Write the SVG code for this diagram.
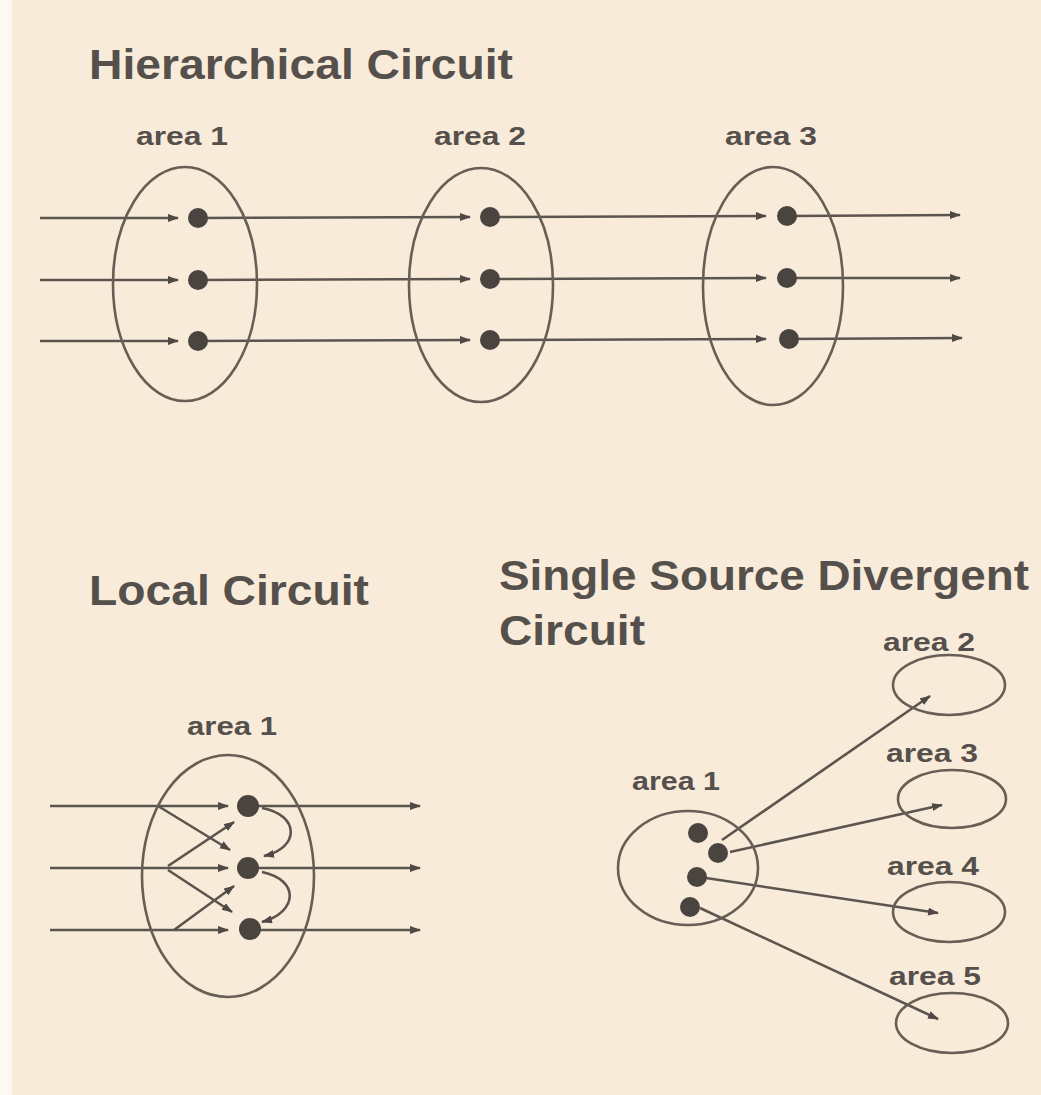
<svg xmlns="http://www.w3.org/2000/svg" width="1041" height="1095" viewBox="0 0 1041 1095">
<defs>
<marker id="ah" markerUnits="userSpaceOnUse" markerWidth="12" markerHeight="10" refX="10" refY="4" orient="auto">
<path d="M0,0 L11,4 L0,8 z" fill="#4f4844"/>
</marker>
<style>
.bg{fill:#f9ebd9}
.title{font-family:"Liberation Sans",Arial,sans-serif;font-weight:bold;font-size:43px;fill:#55504c}
.lbl{font-family:"Liberation Sans",Arial,sans-serif;font-weight:bold;font-size:26px;fill:#55504c;text-anchor:middle}
.ell{fill:none;stroke:#675e56;stroke-width:2.6}
.ln{fill:none;stroke:#5c544e;stroke-width:2.6;marker-end:url(#ah)}
.dot{fill:#4a4440}
</style>
</defs>
<rect class="bg" x="0" y="0" width="1041" height="1095"/>
<rect x="0" y="0" width="12" height="1095" fill="#fdf8f1"/>

<text class="title" x="89" y="79" textLength="424" lengthAdjust="spacingAndGlyphs">Hierarchical Circuit</text>
<text class="title" x="89" y="605" textLength="280" lengthAdjust="spacingAndGlyphs">Local Circuit</text>
<text class="title" x="499" y="590" textLength="530" lengthAdjust="spacingAndGlyphs">Single Source Divergent</text>
<text class="title" x="499" y="645" textLength="146" lengthAdjust="spacingAndGlyphs">Circuit</text>

<g id="connectors">
<!-- hierarchical rows -->
<line class="ln" x1="40" y1="218" x2="178" y2="218"/>
<line class="ln" x1="198" y1="218" x2="470" y2="217"/>
<line class="ln" x1="490" y1="217" x2="766" y2="216"/>
<line class="ln" x1="787" y1="216" x2="960" y2="215"/>
<line class="ln" x1="40" y1="280" x2="178" y2="280"/>
<line class="ln" x1="198" y1="280" x2="470" y2="279"/>
<line class="ln" x1="490" y1="279" x2="766" y2="278"/>
<line class="ln" x1="787" y1="278" x2="960" y2="278"/>
<line class="ln" x1="40" y1="341" x2="178" y2="341"/>
<line class="ln" x1="198" y1="341" x2="470" y2="340"/>
<line class="ln" x1="490" y1="340" x2="766" y2="339"/>
<line class="ln" x1="787" y1="339" x2="962" y2="338"/>
<!-- local rows -->
<line class="ln" x1="50" y1="806" x2="228" y2="806"/>
<line class="ln" x1="248" y1="806" x2="420" y2="806"/>
<line class="ln" x1="50" y1="868" x2="228" y2="868"/>
<line class="ln" x1="248" y1="868" x2="420" y2="868"/>
<line class="ln" x1="50" y1="930" x2="228" y2="930"/>
<line class="ln" x1="250" y1="930" x2="420" y2="930"/>
<!-- local cross -->
<line class="ln" x1="158" y1="806" x2="230" y2="850"/>
<line class="ln" x1="168" y1="866" x2="234" y2="822"/>
<line class="ln" x1="168" y1="870" x2="232" y2="912"/>
<line class="ln" x1="174" y1="930" x2="234" y2="886"/>
<!-- local feedback -->
<path class="ln" d="M262,808 C300,815 300,848 264,856"/>
<path class="ln" d="M262,872 C300,880 298,912 262,922"/>
<!-- divergent -->
<line class="ln" x1="722" y1="840" x2="930" y2="696"/>
<line class="ln" x1="730" y1="852" x2="942" y2="805"/>
<line class="ln" x1="706" y1="878" x2="938" y2="913"/>
<line class="ln" x1="700" y1="908" x2="938" y2="1019"/>
</g>

<g id="h-area1">
<ellipse class="ell" cx="185" cy="284" rx="72" ry="117"/>
<text class="lbl" x="182" y="145" textLength="92" lengthAdjust="spacingAndGlyphs">area 1</text>
<circle class="dot" cx="198" cy="218" r="10"/>
<circle class="dot" cx="198" cy="280" r="10"/>
<circle class="dot" cx="198" cy="341" r="10"/>
</g>
<g id="h-area2">
<ellipse class="ell" cx="481" cy="285" rx="72" ry="117"/>
<text class="lbl" x="480" y="145" textLength="92" lengthAdjust="spacingAndGlyphs">area 2</text>
<circle class="dot" cx="490" cy="217" r="10"/>
<circle class="dot" cx="490" cy="279" r="10"/>
<circle class="dot" cx="490" cy="340" r="10"/>
</g>
<g id="h-area3">
<ellipse class="ell" cx="773" cy="286" rx="70" ry="119"/>
<text class="lbl" x="771" y="145" textLength="92" lengthAdjust="spacingAndGlyphs">area 3</text>
<circle class="dot" cx="787" cy="216" r="10"/>
<circle class="dot" cx="787" cy="278" r="10"/>
<circle class="dot" cx="789" cy="339" r="10"/>
</g>

<g id="l-area1">
<ellipse class="ell" cx="228" cy="876" rx="86" ry="121"/>
<text class="lbl" x="232" y="735" textLength="90" lengthAdjust="spacingAndGlyphs">area 1</text>
<circle class="dot" cx="248" cy="806" r="11"/>
<circle class="dot" cx="248" cy="868" r="11"/>
<circle class="dot" cx="250" cy="929" r="11"/>
</g>

<g id="d-area1">
<ellipse class="ell" cx="688" cy="868" rx="70" ry="57"/>
<text class="lbl" x="676" y="790" textLength="88" lengthAdjust="spacingAndGlyphs">area 1</text>
<circle class="dot" cx="698" cy="833" r="10"/>
<circle class="dot" cx="718" cy="853" r="10"/>
<circle class="dot" cx="697" cy="877" r="10"/>
<circle class="dot" cx="690" cy="907" r="10"/>
</g>
<g id="d-area2">
<ellipse class="ell" cx="949" cy="685" rx="56" ry="30"/>
<text class="lbl" x="929" y="651" textLength="92" lengthAdjust="spacingAndGlyphs">area 2</text>
</g>
<g id="d-area3">
<ellipse class="ell" cx="952" cy="799" rx="54" ry="29"/>
<text class="lbl" x="932" y="762" textLength="92" lengthAdjust="spacingAndGlyphs">area 3</text>
</g>
<g id="d-area4">
<ellipse class="ell" cx="949" cy="912" rx="56" ry="30"/>
<text class="lbl" x="933" y="875" textLength="92" lengthAdjust="spacingAndGlyphs">area 4</text>
</g>
<g id="d-area5">
<ellipse class="ell" cx="952" cy="1023" rx="56" ry="30"/>
<text class="lbl" x="935" y="985" textLength="92" lengthAdjust="spacingAndGlyphs">area 5</text>
</g>
</svg>
